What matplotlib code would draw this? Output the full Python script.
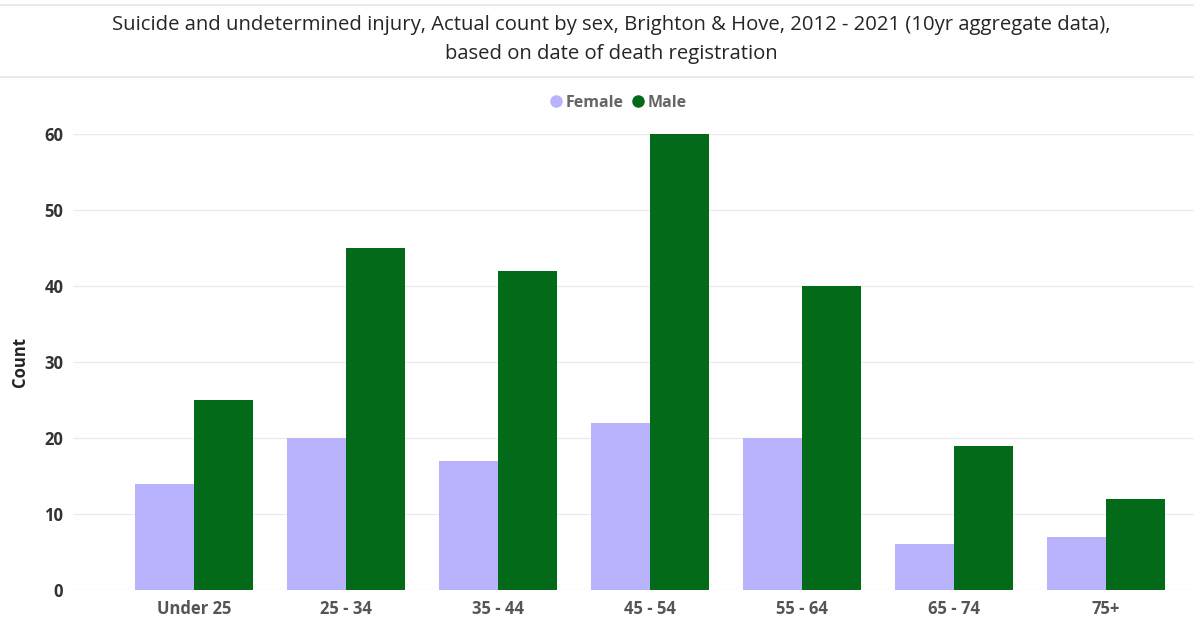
import matplotlib
matplotlib.use("Agg")
import matplotlib.pyplot as plt
from matplotlib.lines import Line2D
import numpy as np

categories = ["Under 25", "25 - 34", "35 - 44", "45 - 54", "55 - 64", "65 - 74", "75+"]
female = [14, 20, 17, 22, 20, 6, 7]
male = [25, 45, 42, 60, 40, 19, 12]
yticks = [0, 10, 20, 30, 40, 50, 60]

c_female = "#B8B3FC"
c_male = "#026A19"

plt.rcParams['font.family'] = ['Open Sans', 'DejaVu Sans']

fig = plt.figure(figsize=(11.94, 6.17), dpi=100)
ax = fig.add_axes([73/1194, 27/617, 1 - 73/1194, (590-134)/617])

x = np.arange(len(categories))
w = 0.388
ax.bar(x - w/2, female, width=w, color=c_female, zorder=3)
ax.bar(x + w/2, male, width=w, color=c_male, zorder=3)

ax.set_xlim(-0.796, 6.58)
ax.set_ylim(0, 60)
ax.set_yticks(yticks)
ax.set_xticks(x)
ax.set_xticklabels(categories, fontsize=12, fontweight='bold', color='#555555')
ax.set_yticklabels([str(v) for v in yticks], fontsize=12, fontweight='bold', color='#333333')
ax.tick_params(axis='both', length=0, pad=7)
ax.grid(axis='y', color='#EBEBEB', linewidth=1, zorder=0)
for s in ax.spines.values():
    s.set_visible(False)
ax.set_ylabel("Count", fontsize=12, fontweight='bold', color='#222222')
ax.yaxis.set_label_coords(-0.039, 0.5)

fig.text(0.512, 1 - 25/617, "Suicide and undetermined injury, Actual count by sex, Brighton & Hove, 2012 - 2021 (10yr aggregate data),",
         ha='center', va='center', fontsize=14.6, color='#252525')
fig.text(0.512, 1 - 54/617, "based on date of death registration",
         ha='center', va='center', fontsize=14.6, color='#252525')

for yy in [5, 77]:
    fig.add_artist(Line2D([0, 1], [1 - yy/617, 1 - yy/617], color='#E6E6E6', linewidth=1.2, transform=fig.transFigure))

handles = [Line2D([], [], marker='o', linestyle='', color=c_female, markersize=8),
           Line2D([], [], marker='o', linestyle='', color=c_male, markersize=8)]
fig.legend(handles, ["Female", "Male"], loc='center', bbox_to_anchor=(617/1194, 1 - 103/617),
           ncol=2, frameon=False, handletextpad=0.0, columnspacing=0.3, handlelength=1.2,
           prop={'size': 11.5, 'weight': 'bold'}, labelcolor='#666666')

fig.savefig("out.png", dpi=100)
